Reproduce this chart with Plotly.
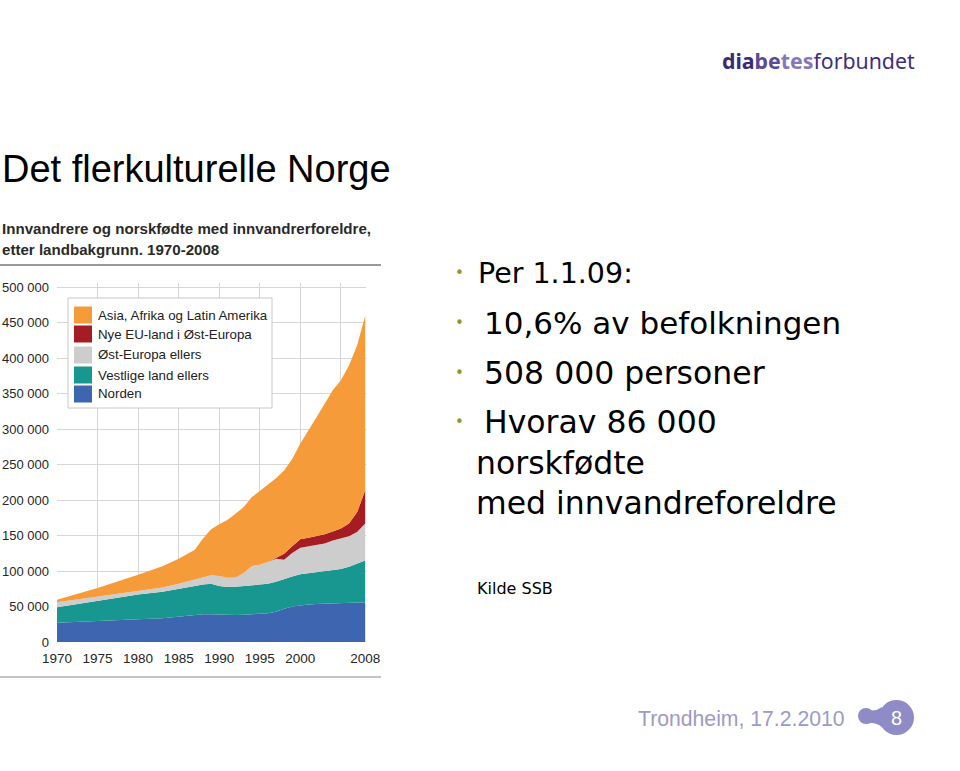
import plotly.graph_objects as go

# ---------------- data (persons) ----------------
years = [1970, 1975, 1980, 1983, 1985, 1987, 1988, 1989, 1990, 1991, 1992, 1993, 1994,
         1995, 1996, 1997, 1998, 1999, 2000, 2001, 2002, 2003, 2004, 2005, 2006, 2007, 2008]

norden = [27000, 30000, 32000, 33500, 36000, 38000, 39000, 39000, 38500, 38000, 38000, 38500, 39000,
          39500, 40500, 42500, 47000, 50000, 52000, 53000, 53500, 54000, 54000, 54500, 55000, 55500, 56000]
vestlige = [22000, 28000, 35000, 37500, 39500, 41000, 42000, 43000, 40500, 39500, 40000, 40500, 41000,
            41000, 41500, 42500, 42000, 42500, 43500, 44000, 44500, 45000, 47000, 48500, 51000, 54500, 59000]
ost_ellers = [7000, 6000, 5000, 6000, 6500, 9000, 10000, 12000, 14000, 13000, 13000, 18000, 27000,
              28500, 31000, 32500, 27000, 33000, 37500, 38000, 38000, 40000, 42000, 43000, 43000, 45000, 52000]
nye_eu = [0, 0, 0, 0, 0, 0, 0, 0, 0, 0, 0, 0, 0,
          0, 0, 1500, 8500, 9500, 12000, 12000, 13000, 13000, 13000, 14000, 18000, 28000, 47000]
asia = [3500, 12000, 23000, 30000, 35500, 42000, 55000, 65000, 73000, 81500, 90000, 93000, 97000,
        104000, 109000, 112000, 117400, 123000, 135000, 151000, 168000, 184000, 199000, 209000, 223000, 235000, 246000]

series_names = ["Norden", "Vestlige land ellers", "Øst-Europa ellers",
                "Nye EU-land i Øst-Europa", "Asia, Afrika og Latin Amerika"]
series_values = [norden, vestlige, ost_ellers, nye_eu, asia]
series_colors = ["#3e65b0", "#17978f", "#cdcdcd", "#a51d22", "#f69b3a"]

x_tickvals = [1970, 1975, 1980, 1985, 1990, 1995, 2000, 2005, 2008]
x_ticktext = ["1970", "1975", "1980", "1985", "1990", "1995", "2000", "", "2008"]
y_tickvals = [0, 50000, 100000, 150000, 200000, 250000, 300000, 350000, 400000, 450000, 500000]

W, H = 960, 771
def px(x):
    return x / W
def py(y):
    return 1 - y / H

NARROW = "Liberation Sans Narrow, Arial Narrow, Liberation Sans, Arial, sans-serif"
ARIAL = "Liberation Sans, Arial, sans-serif"
BODY = "DejaVu Sans, Verdana, sans-serif"

fig = go.Figure()
for name, vals, col in zip(series_names, series_values, series_colors):
    fig.add_trace(go.Scatter(
        x=years, y=vals, name=name, mode="lines",
        stackgroup="one", line=dict(width=0, color=col), fillcolor=col,
        showlegend=False, hoverinfo="x+y+name"))

fig.update_layout(
    template="none",
    width=W, height=H, autosize=False,
    margin=dict(l=0, r=0, t=0, b=0, pad=0, autoexpand=False),
    paper_bgcolor="white", plot_bgcolor="white",
    separators=", ",
    showlegend=False,
    xaxis=dict(domain=[px(57), px(366)], range=[1970, 2008.1], automargin=False,
               tickvals=x_tickvals, ticktext=x_ticktext,
               showgrid=True, gridcolor="#d6d6d6", gridwidth=1,
               zeroline=False, showline=False, ticks="",
               ticklabelstandoff=6,
               tickfont=dict(family=NARROW, size=13.5, color="#262626")),
    yaxis=dict(domain=[py(642), py(283)], range=[0, 506300], automargin=False,
               tickvals=y_tickvals, tickformat=",d",
               showgrid=True, gridcolor="#d6d6d6", gridwidth=1,
               zeroline=False, showline=False, ticks="",
               ticklabelstandoff=7,
               tickfont=dict(family=NARROW, size=13, color="#262626")),
)

shapes = []
# rules of the embedded chart
shapes.append(dict(type="line", xref="paper", yref="paper", x0=px(0), x1=px(381), y0=py(265), y1=py(265),
                   line=dict(color="#9a9a9a", width=2)))
shapes.append(dict(type="line", xref="paper", yref="paper", x0=px(0), x1=px(381), y0=py(677), y1=py(677),
                   line=dict(color="#c4c4c4", width=2)))
# legend box
shapes.append(dict(type="rect", xref="paper", yref="paper", x0=px(68), x1=px(272), y0=py(408), y1=py(298),
                   line=dict(color="#c8c8c8", width=1), fillcolor="white", layer="above"))

annotations = []
legend_rows = [315, 334, 355, 375, 394]
legend_order = list(range(len(series_names)))[::-1]
for row_y, idx in zip(legend_rows, legend_order):
    shapes.append(dict(type="rect", xref="paper", yref="paper", x0=px(74), x1=px(92),
                       y0=py(row_y + 8.5), y1=py(row_y - 8.5),
                       line=dict(width=0), fillcolor=series_colors[idx], layer="above"))
    annotations.append(dict(text=series_names[idx], xref="paper", yref="paper", x=px(96), y=py(row_y),
                            xanchor="left", yanchor="middle", showarrow=False,
                            font=dict(family=NARROW, size=13.3, color="#222222")))

# slide title
annotations.append(dict(text="Det flerkulturelle Norge", xref="paper", yref="paper", x=px(0), y=py(169),
                        xanchor="left", yanchor="middle", showarrow=False,
                        font=dict(family=ARIAL, size=38, color="#000000")))
# chart title
annotations.append(dict(text="<b>Innvandrere og norskfødte med innvandrerforeldre,</b>", xref="paper", yref="paper",
                        x=px(0), y=py(228), xanchor="left", yanchor="middle", showarrow=False,
                        font=dict(family=NARROW, size=15.1, color="#2a2a2a")))
annotations.append(dict(text="<b>etter landbakgrunn. 1970-2008</b>", xref="paper", yref="paper",
                        x=px(0), y=py(250), xanchor="left", yanchor="middle", showarrow=False,
                        font=dict(family=NARROW, size=15.1, color="#2a2a2a")))

# bullet text
bullet_lines = [
    ("Per 1.1.09:", 476, 273, 28.5, True),
    ("10,6% av befolkningen", 482, 323, 31, True),
    ("508 000 personer", 482, 373, 31.5, True),
    ("Hvorav 86 000", 482, 422, 31.5, True),
    ("norskfødte", 474, 463, 31.5, False),
    ("med innvandreforeldre", 474, 503, 31.5, False),
]
for text, x, y, size, dot in bullet_lines:
    annotations.append(dict(text=text, xref="paper", yref="paper", x=px(x), y=py(y),
                            xanchor="left", yanchor="middle", showarrow=False,
                            font=dict(family=BODY, size=size, color="#000000")))
    if dot:
        annotations.append(dict(text="•", xref="paper", yref="paper", x=px(459), y=py(y),
                                xanchor="center", yanchor="middle", showarrow=False,
                                font=dict(family=BODY, size=15, color="#8a9a2c")))

annotations.append(dict(text="Kilde SSB", xref="paper", yref="paper", x=px(475), y=py(588),
                        xanchor="left", yanchor="middle", showarrow=False,
                        font=dict(family=BODY, size=16, color="#000000")))

# logo
logo = ("<b><span style='color:#3b2a78'>dia</span><span style='color:#5a4a98'>be</span>"
        "<span style='color:#8676bd'>tes</span></b><span style='color:#3d3080'>forbundet</span>")
annotations.append(dict(text=logo, xref="paper", yref="paper", x=px(720), y=py(61),
                        xanchor="left", yanchor="middle", showarrow=False,
                        font=dict(family="Noto Sans, Open Sans, sans-serif", size=21.3)))

# footer
annotations.append(dict(text="Trondheim, 17.2.2010", xref="paper", yref="paper", x=px(636), y=py(718),
                        xanchor="left", yanchor="middle", showarrow=False,
                        font=dict(family=ARIAL, size=21.2, color="#9d9ac9")))
shapes.append(dict(type="circle", xref="paper", yref="paper", x0=px(858), x1=px(874), y0=py(724), y1=py(708),
                   line=dict(width=0), fillcolor="#8e8bc6"))
shapes.append(dict(type="path", xref="paper", yref="paper",
                   path=f"M {px(866)} {py(709)} Q {px(874)} {py(713)} {px(882)} {py(707)} "
                        f"L {px(882)} {py(727)} Q {px(874)} {py(721)} {px(866)} {py(724)} Z",
                   line=dict(width=0), fillcolor="#8e8bc6"))
shapes.append(dict(type="circle", xref="paper", yref="paper", x0=px(879), x1=px(914), y0=py(735), y1=py(700),
                   line=dict(width=0), fillcolor="#8e8bc6"))
annotations.append(dict(text="8", xref="paper", yref="paper", x=px(896.5), y=py(718),
                        xanchor="center", yanchor="middle", showarrow=False,
                        font=dict(family=ARIAL, size=20, color="#ffffff")))

fig.update_layout(shapes=shapes, annotations=annotations)
fig.write_html("out.html")
